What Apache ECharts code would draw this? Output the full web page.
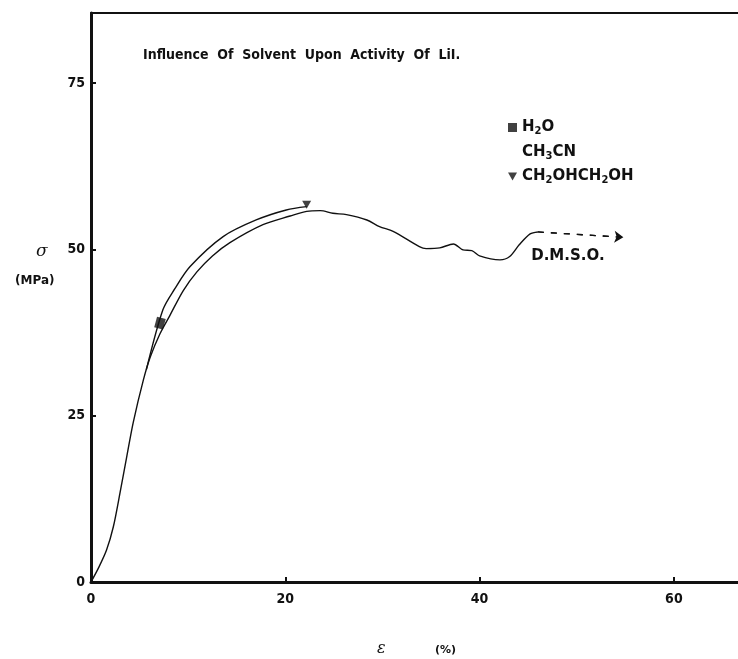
<!DOCTYPE html>
<html>
<head>
<meta charset="utf-8">
<script src="https://cdn.jsdelivr.net/npm/echarts@6/dist/echarts.min.js"></script>
<style>
  html, body { margin: 0; padding: 0; background: #fff; }
  #main { width: 738px; height: 659px; }
</style>
</head>
<body>
<div id="main"></div>
<script>
// D.M.S.O. curve (strain %, stress MPa)
var dmsoX = [0, 0.8, 1.6, 2.3, 3.0, 3.7, 4.35, 5.4, 6.1, 7.1, 8.1, 9.5, 10.9, 12.5, 14.3, 17.7, 20.5, 22.2, 23.6, 24.9, 26.3, 28.4, 29.7, 31.1, 33.8, 34.5, 35.9, 37.3, 38.3, 39.2, 40.0, 42.1, 43.1, 44.1, 45.2, 46.0];
var dmsoY = [0, 2.2, 4.8, 8.3, 13.5, 19.0, 24.0, 30.4, 33.8, 37.3, 40.0, 43.8, 46.6, 49.0, 51.0, 53.7, 55.0, 55.7, 55.8, 55.4, 55.2, 54.4, 53.4, 52.7, 50.4, 50.1, 50.2, 50.8, 49.9, 49.8, 49.0, 48.4, 48.9, 50.7, 52.3, 52.6];
// dashed continuation of D.M.S.O.
var dashX = [46.0, 54.8];
var dashY = [52.6, 51.8];
// other solvents curve
var upperX = [5.7, 7.4, 8.6, 10.2, 13.6, 17.0, 20.1, 22.2];
var upperY = [31.9, 40.9, 44.0, 47.4, 51.9, 54.4, 55.9, 56.4];
// end points
var h2oPt = [7.1, 38.9];
var glycolPt = [22.2, 56.4];

var xTicks = [0, 20, 40, 60];
var yTicks = [0, 25, 50, 75];

var solventLabels = {
    'H2O': 'H{s|2}O',
    'CH3CN': 'CH{s|3}CN',
    'CH2OHCH2OH': 'CH{s|2}OHCH{s|2}OH'
};

function zip(a, b) {
    var out = [];
    for (var i = 0; i < a.length; i++) out.push([a[i], b[i]]);
    return out;
}

var boldFont = "'Liberation Sans Narrow', 'DejaVu Sans Condensed', 'Liberation Sans', sans-serif";
var legFont = "'DejaVu Sans', sans-serif";
var ink = '#111';

var myChart = echarts.init(document.getElementById('main'));
var option = {
    animation: false,
    backgroundColor: '#fff',
    title: [
        {
            text: 'Influence  Of  Solvent  Upon  Activity  Of  LiI.',
            left: 138, top: 43,
            textStyle: {fontFamily: boldFont, fontSize: 14, fontWeight: 'bold', color: ink}
        },
        {
            text: 'σ', left: 31, top: 238,
            textStyle: {fontFamily: "'DejaVu Serif', serif", fontStyle: 'italic', fontSize: 17, fontWeight: 'normal', color: ink}
        },
        {
            text: '(MPa)', left: 10, top: 270,
            textStyle: {fontFamily: legFont, fontSize: 12, fontWeight: 'bold', color: ink}
        },
        {
            text: 'ε', left: 372, top: 636,
            textStyle: {fontFamily: "'DejaVu Serif', serif", fontStyle: 'italic', fontSize: 16, fontWeight: 'normal', color: ink}
        },
        {
            text: '(%)', left: 430, top: 640,
            textStyle: {fontFamily: legFont, fontSize: 11, fontWeight: 'bold', color: ink}
        }
    ],
    legend: {
        orient: 'vertical',
        left: 508, top: 119,
        padding: 0,
        itemWidth: 9, itemHeight: 9,
        itemGap: 7,
        selectedMode: false,
        data: [
            {name: 'H2O', icon: 'rect'},
            {name: 'CH3CN', icon: 'rect', itemStyle: {opacity: 0}},
            {name: 'CH2OHCH2OH', icon: 'path://M0,0 L10,0 L5,9 Z'}
        ],
        formatter: function (name) { return solventLabels[name]; },
        textStyle: {
            fontFamily: legFont, fontSize: 15, fontWeight: 'bold', color: ink, lineHeight: 17,
            rich: {
                s: {fontFamily: legFont, fontSize: 10, fontWeight: 'bold', color: ink, padding: [8, 0, 0, 0]}
            }
        }
    },
    grid: {left: 91, right: 0, top: 13, bottom: 77},
    xAxis: [
        {
            type: 'value', min: 0, max: 66.6, interval: 20,
            axisLine: {lineStyle: {color: ink, width: 3}},
            axisTick: {inside: true, length: 5, customValues: xTicks, lineStyle: {color: ink, width: 2}},
            axisLabel: {
                margin: 10, color: ink, fontFamily: boldFont, fontWeight: 'bold', fontSize: 14,
                customValues: xTicks
            },
            splitLine: {show: false}
        },
        {
            type: 'value', position: 'top', min: 0, max: 66.6,
            axisLine: {show: true, lineStyle: {color: ink, width: 2}},
            axisTick: {show: false}, axisLabel: {show: false}, splitLine: {show: false}
        }
    ],
    yAxis: {
        type: 'value', min: 0, max: 85.5, interval: 25,
        axisLine: {lineStyle: {color: ink, width: 3}},
        axisTick: {inside: true, length: 5, customValues: yTicks, lineStyle: {color: ink, width: 2}},
        axisLabel: {
            margin: 6, color: ink, fontFamily: boldFont, fontWeight: 'bold', fontSize: 14,
            customValues: yTicks
        },
        splitLine: {show: false}
    },
    series: [
        {
            name: 'D.M.S.O.', type: 'line', data: zip(dmsoX, dmsoY),
            smooth: 0.3, showSymbol: false, symbol: 'none',
            lineStyle: {color: ink, width: 1.4}
        },
        {
            name: 'dmso-dash', type: 'line', data: zip(dashX, dashY),
            showSymbol: false, symbol: 'none',
            lineStyle: {color: ink, width: 1.3, type: [6, 7]},
            markLine: {
                silent: true, symbol: ['none', 'arrow'], symbolSize: [9, 9],
                label: {show: false},
                lineStyle: {color: ink, width: 1.3, type: [6, 7]},
                data: [[{coord: [dashX[0], dashY[0]]}, {coord: [dashX[1], dashY[1]]}]]
            },
            markPoint: {
                symbol: 'circle', symbolSize: 0,
                data: [{coord: [dashX[0] - 1.2, dashY[0] - 3.6]}],
                label: {
                    show: true, position: 'right', formatter: 'D.M.S.O.',
                    fontFamily: legFont, fontSize: 15, fontWeight: 'bold', color: ink
                }
            }
        },
        {
            name: 'solvents', type: 'line', data: zip(upperX, upperY),
            smooth: 0.3, showSymbol: false, symbol: 'none',
            lineStyle: {color: ink, width: 1.4}
        },
        {
            name: 'H2O', type: 'scatter', data: [h2oPt],
            symbol: 'rect', symbolSize: [9, 11], symbolRotate: -15,
            itemStyle: {color: ink}
        },
        {
            name: 'CH3CN', type: 'scatter', data: [],
            itemStyle: {color: ink}
        },
        {
            name: 'CH2OHCH2OH', type: 'scatter', data: [glycolPt],
            symbol: 'path://M0,0 L10,0 L5,9 Z', symbolSize: [9, 8], symbolOffset: [0, -2],
            itemStyle: {color: ink}
        }
    ]
};
myChart.setOption(option);
</script>
</body>
</html>
